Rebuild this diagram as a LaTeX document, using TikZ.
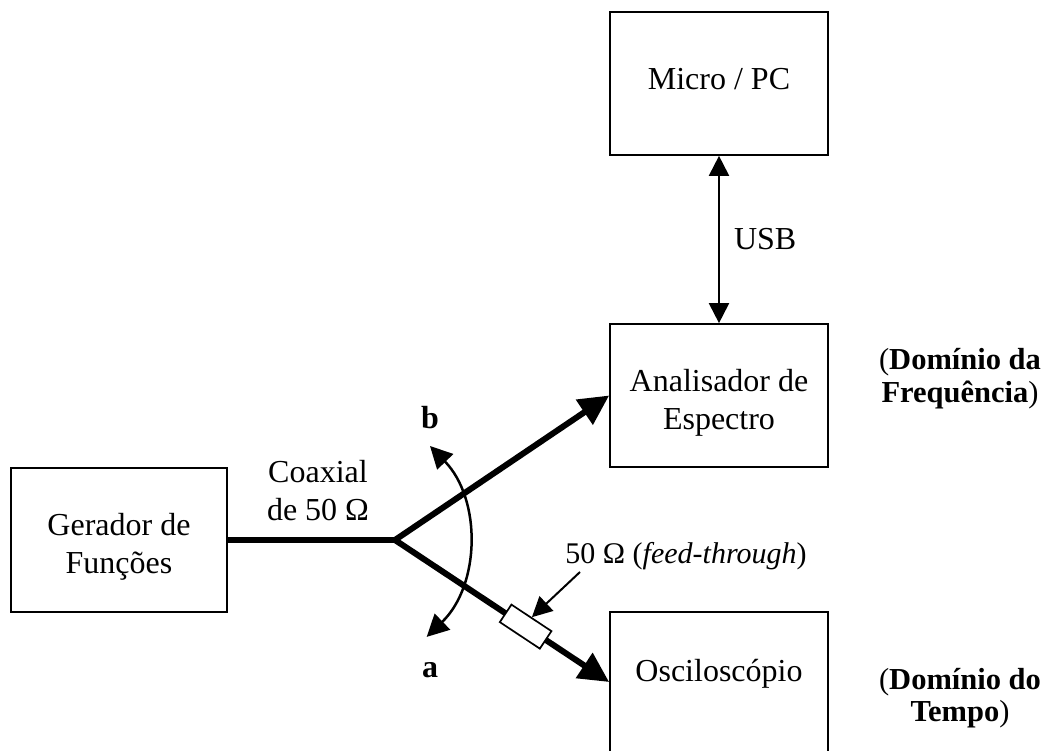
\documentclass[tikz,border=0pt]{standalone}
\usepackage{fontspec}
\setmainfont{Liberation Serif}
\usetikzlibrary{arrows.meta}
\begin{document}
\begin{tikzpicture}[x=1pt,y=-1pt,
  every node/.style={font=\fontsize{32}{38}\selectfont},
  box/.style={draw,line width=1.7pt,minimum width=218pt,align=center,inner sep=0pt},
  tip/.style={-{Triangle[length=20pt,width=20pt]}},
  thin/.style={line width=2pt,{Triangle[length=20pt,width=20pt]}-{Triangle[length=20pt,width=20pt]}},
  cable/.style={line width=6.5pt},
  cablearrow/.style={line width=6pt,-{Triangle[length=30pt,width=29pt]}},
  lbl/.style={align=center,inner sep=0pt}]
\useasboundingbox (0,0) rectangle (1042,751);
\node[box,minimum height=143pt] (pc) at (719,83.5) {\raisebox{-6.5pt}[0pt][0pt]{Micro / PC}};
\node[box,minimum height=143pt] (ana) at (719,395.5) {\raisebox{-14pt}[0pt][0pt]{\begin{tabular}{@{}c@{}}Analisador de\\Espectro\end{tabular}}};
\node[box,minimum height=140pt] (osc) at (719,682) {\raisebox{1pt}[0pt][0pt]{Osciloscópio}};
\node[box,minimum width=216pt,minimum height=144pt] (gen) at (119,540) {\raisebox{-13pt}[0pt][0pt]{\begin{tabular}{@{}c@{}}Gerador de\\Funções\end{tabular}}};
\coordinate (j) at (395,540);
\draw[cable] (gen.east) -- (j);
\draw[cablearrow] (j) -- (ana.west);
\draw[cablearrow] (j) -- node[pos=0.61,sloped,draw,fill=white,line width=1.7pt,minimum width=48pt,minimum height=21pt,inner sep=0pt] (res) {} (osc.west);
\draw[thin] (pc.south) -- node[right=14pt,lbl] (usb) {USB} (ana.north);
\node[lbl] (coax) at (318,491) {Coaxial\\de 50 Ω};
\node[lbl,font=\fontsize{30}{36}\selectfont] (fl) at (686,556) {50 Ω (\textit{feed-through})};
\coordinate (fs) at (580,572);
\draw[line width=2pt,tip] (fs) -- (res.north);
\coordinate (bt) at (430,446);
\draw[line width=2.5pt,{Triangle[length=22pt,width=22pt]}-{Triangle[length=22pt,width=22pt]}] (bt) arc[start angle=-44, end angle=46, radius=135];
\node[lbl] (b) at (430,418) {\textbf{b}};
\node[lbl] (a) at (430,670) {\textbf{a}};
\node[lbl,font=\fontsize{30.5}{33}\selectfont] (fd) at (960,379) {(\textbf{Domínio da}\\\textbf{Frequência})};
\node[lbl,font=\fontsize{30.5}{32}\selectfont] (td) at (960,698) {(\textbf{Domínio do}\\\textbf{Tempo})};
\end{tikzpicture}
\end{document}
